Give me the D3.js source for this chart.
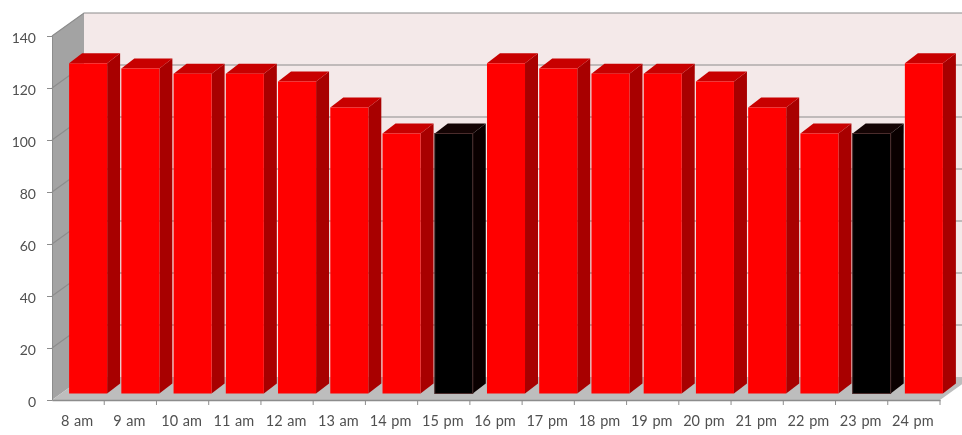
<!DOCTYPE html>
<html>
<head>
<meta charset="utf-8">
<script src="https://d3js.org/d3.v7.min.js"></script>
<style>
	html, body { margin: 0; padding: 0; background: #fff; overflow: hidden; }
	svg { display: block; filter: blur(0.5px); }
	text { font-family: Lato, "Open Sans", sans-serif; fill: #505050; }
</style>
</head>
<body>
<svg id="chart" width="962" height="435"></svg>
<script>
// Data
var hours = ["8 am","9 am","10 am","11 am","12 am","13 am","14 pm","15 pm","16 pm","17 pm","18 pm","19 pm","20 pm","21 pm","22 pm","23 pm","24 pm"];
var people = [127,125,123,123,120,110,100,100,127,125,123,123,120,110,100,100,127];
var blackHours = ["15 pm","23 pm"];
var yTicks = [0,20,40,60,80,100,120,140];

// Layout
var svg = d3.select("#chart");
var wallDx = 32, wallDy = -23;	// depth of the whole box
var barDx = 13, barDy = -10;	// depth of one bar
var floorDx = 10, floorDy = -6.5;	// how far bars sit behind the front edge

var x = d3.scaleBand().domain(hours).range([52, 940]).paddingInner(0).paddingOuter(0);
var y = d3.scaleLinear().domain([0, 140]).range([400, 36]);
var barWidth = x.bandwidth() * 0.728;
var barGap = (x.bandwidth() - barWidth) / 2;

function pts(list) { return list.map(function(p) { return p.join(","); }).join(" "); }

// Walls
var x0 = x.range()[0], x1 = x.range()[1];
svg.append("polygon")
	.attr("points", pts([[x0 + wallDx, y(140) + wallDy], [x1 + wallDx, y(140) + wallDy], [x1 + wallDx, y(0) + wallDy], [x0 + wallDx, y(0) + wallDy]]))
	.attr("fill", "#f4e9e9");
svg.append("polygon")
	.attr("points", pts([[x0, y(140)], [x0 + wallDx, y(140) + wallDy], [x0 + wallDx, y(0) + wallDy], [x0, y(0)]]))
	.attr("fill", "#a3a3a3");
svg.append("polygon")
	.attr("points", pts([[x0, y(0)], [x0 + wallDx, y(0) + wallDy], [x1 + wallDx, y(0) + wallDy], [x1, y(0)]]))
	.attr("fill", "#bdbdbd");

// Gridlines, back wall then left wall
svg.selectAll(".grid").data(yTicks.slice(1)).enter()
	.append("polyline")
	.attr("class", "grid")
	.attr("points", function(d) { return pts([[x0, y(d)], [x0 + wallDx, y(d) + wallDy], [x1 + wallDx, y(d) + wallDy]]); })
	.attr("fill", "none")
	.attr("stroke", "#8c8c8c")
	.attr("stroke-width", 1.2);

// Bars
var bars = svg.selectAll(".bar").data(hours).enter()
	.append("g")
	.attr("class", "bar")
	.attr("transform", function(d) { return "translate(" + (x(d) + barGap + floorDx) + "," + floorDy + ")"; });

function isBlack(d) { return blackHours.indexOf(d) >= 0; }
function barTop(i) { return y(people[i]); }

bars.append("polygon")
	.attr("points", function(d, i) { return pts([[barWidth, barTop(i)], [barWidth + barDx, barTop(i) + barDy], [barWidth + barDx, y(0) + barDy], [barWidth, y(0)]]); })
	.attr("fill", function(d) { return isBlack(d) ? "#0a0000" : "#a80000"; });
bars.append("polygon")
	.attr("points", function(d, i) { return pts([[0, barTop(i)], [barDx, barTop(i) + barDy], [barWidth + barDx, barTop(i) + barDy], [barWidth, barTop(i)]]); })
	.attr("fill", function(d) { return isBlack(d) ? "#140404" : "#c80000"; });
bars.append("rect")
	.attr("x", 0)
	.attr("y", function(d, i) { return barTop(i); })
	.attr("width", barWidth)
	.attr("height", function(d, i) { return y(0) - barTop(i); })
	.attr("fill", function(d) { return isBlack(d) ? "#000" : "#ff0000"; })
	.attr("stroke", function(d) { return isBlack(d) ? "#4a2c2c" : "none"; })
	.attr("stroke-width", 1);

// Axes
var yAxis = svg.append("g")
	.attr("transform", "translate(" + x0 + ",0)")
	.call(d3.axisLeft(y).tickValues(yTicks).tickSize(5).tickPadding(11));
yAxis.select(".domain").attr("stroke", "#8c8c8c");
yAxis.selectAll(".tick line").attr("stroke", "#8c8c8c");
yAxis.selectAll("text").attr("dy", "0.45em").style("font-size", "14px").style("fill", "#505050");

var xAxis = svg.append("g")
	.attr("transform", "translate(0," + y(0) + ")")
	.call(d3.axisBottom(x).tickSize(0).tickPadding(16));
xAxis.select(".domain").attr("stroke", "#8c8c8c").attr("stroke-width", 1.5);
xAxis.selectAll("text")
	.attr("dx", -1)
	.style("font-size", "14.5px")
	.style("word-spacing", "1px")
	.style("fill", "#505050");

svg.selectAll(".xtick").data(hours).enter()
	.append("line")
	.attr("class", "xtick")
	.attr("x1", function(d) { return x(d) + x.bandwidth(); })
	.attr("x2", function(d) { return x(d) + x.bandwidth(); })
	.attr("y1", y(0))
	.attr("y2", y(0) + 5)
	.attr("stroke", "#8c8c8c");
</script>
</body>
</html>
